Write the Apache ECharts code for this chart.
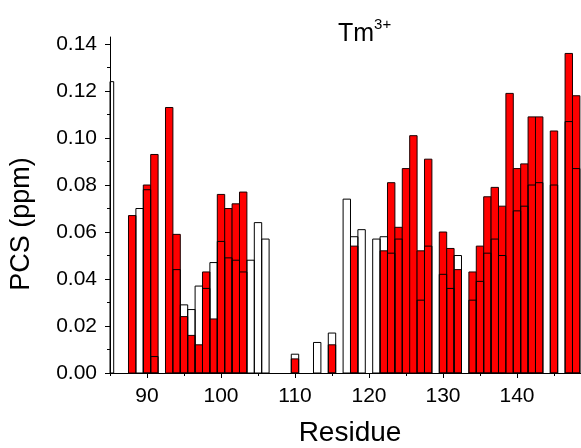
<!DOCTYPE html>
<html>
<head>
<meta charset="utf-8">
<script src="https://cdn.jsdelivr.net/npm/echarts@6/dist/echarts.min.js"></script>
<style>
html,body{margin:0;padding:0;background:#fff;}
#chart{width:581px;height:448px;}
</style>
</head>
<body>
<div id="chart"></div>
<script>
// Residue numbers
var residues = [85,86,87,88,89,90,91,92,93,94,95,96,97,98,99,100,101,102,103,104,105,106,107,108,109,110,111,112,113,114,115,116,117,118,119,120,121,122,123,124,125,126,127,128,129,130,131,132,133,134,135,136,137,138,139,140,141,142,143,144,145,146,147,148];
// Open (outlined) bars
var openValues = [0.124,null,null,null,0.070,0.078,0.007,null,null,0.044,0.029,0.027,0.037,0.036,0.047,0.056,0.049,0.048,0.043,0.048,0.064,0.057,null,null,null,0.008,null,null,0.013,null,0.017,null,0.074,0.058,0.061,null,0.057,0.058,0.051,0.057,null,null,0.031,0.054,null,0.042,0.036,0.050,null,0.031,0.039,0.051,0.057,0.050,null,0.069,0.071,0.080,0.081,null,0.080,null,0.107,0.087];
// Red (filled) bars
var redValues = [null,null,null,0.067,null,0.080,0.093,null,0.113,0.059,0.024,0.016,0.012,0.043,0.023,0.076,0.070,0.072,0.077,null,null,null,null,null,null,0.006,null,null,null,null,0.012,null,null,0.054,null,null,null,0.052,0.081,0.062,0.087,0.101,0.052,0.091,null,0.060,0.053,0.044,null,0.043,0.054,0.075,0.079,0.071,0.119,0.087,0.089,0.109,0.109,null,0.103,null,0.136,0.118];
var xMajorTicks = [90,100,110,120,130,140];
var xMinorTicks = [85,95,105,115,125,135,145];
var yMajorTicks = [0,0.02,0.04,0.06,0.08,0.10,0.12,0.14];
var yMinorTicks = [0.01,0.03,0.05,0.07,0.09,0.11,0.13];

function pairs(vals){
  var out = [];
  for (var i=0;i<residues.length;i++){ if (vals[i]!==null) out.push([residues[i], vals[i]]); }
  return out;
}

function makeRender(fill, stroke){
  return function(params, api){
    var x = api.value(0), y = api.value(1);
    var pL = api.coord([x - 0.5, 0]);
    var pR = api.coord([x + 0.5, y]);
    var cs = params.coordSys;
    var rect = echarts.graphic.clipRectByRect(
      {x:pL[0], y:pR[1], width:pR[0]-pL[0], height:pL[1]-pR[1]},
      {x:cs.x, y:cs.y, width:cs.width, height:cs.height}
    );
    if (!rect) return null;
    return {type:'rect', shape:rect, style:{fill:fill, stroke:stroke, lineWidth:1}};
  };
}

var chart = echarts.init(document.getElementById('chart'), null, {renderer:'canvas'});
var FONT = 'Liberation Sans, Arial, sans-serif';
var XMIN = 85, XMAX = 148.65, YMAX = 0.143;
var axisLineStyle = {color:'#000', width:1};
chart.setOption({
  animation:false,
  backgroundColor:'#fff',
  title:{
    text:'{a|Tm}{b|3+}',
    left:333, top:12,
    textStyle:{fontWeight:'normal', rich:{
      a:{fontFamily:FONT, fontSize:25, fontWeight:'normal', color:'#000', verticalAlign:'bottom', lineHeight:30},
      b:{fontFamily:FONT, fontSize:15, fontWeight:'normal', color:'#000', verticalAlign:'top', lineHeight:30, padding:[0,0,11,0]}
    }}
  },
  graphic:[{
    type:'text', x:350, y:433,
    style:{text:'Residue', fontFamily:FONT, fontSize:28, fill:'#000', align:'center', verticalAlign:'middle'}
  },{
    type:'text', x:22, y:224, rotation:Math.PI/2,
    style:{text:'PCS (ppm)', fontFamily:FONT, fontSize:27, fill:'#000', align:'center', verticalAlign:'middle'}
  }],
  grid:{left:110, right:0, top:37, bottom:75, containLabel:false},
  xAxis:[{
    type:'value', min:XMIN, max:XMAX, interval:5,
    axisLine:{show:true, onZero:false, lineStyle:axisLineStyle},
    axisTick:{show:true, inside:false, length:5, customValues:xMajorTicks, lineStyle:axisLineStyle},
    axisLabel:{show:true, customValues:xMajorTicks, fontFamily:FONT, fontSize:21, color:'#000', margin:13},
    splitLine:{show:false}
  },{
    type:'value', min:XMIN, max:XMAX, interval:5, position:'bottom',
    axisLine:{show:false},
    axisTick:{show:true, length:3, customValues:xMinorTicks, lineStyle:axisLineStyle},
    axisLabel:{show:false},
    splitLine:{show:false}
  }],
  yAxis:[{
    type:'value', min:0, max:YMAX, interval:0.02,
    axisLine:{show:true, lineStyle:axisLineStyle},
    axisTick:{show:true, length:5, customValues:yMajorTicks, lineStyle:axisLineStyle},
    axisLabel:{show:true, customValues:yMajorTicks, fontFamily:FONT, fontSize:21, color:'#000', margin:13,
      formatter:function(v){return v.toFixed(2);}},
    splitLine:{show:false}
  },{
    type:'value', min:0, max:YMAX, interval:0.02, position:'left',
    axisLine:{show:false},
    axisTick:{show:true, length:3, customValues:yMinorTicks, lineStyle:axisLineStyle},
    axisLabel:{show:false},
    splitLine:{show:false}
  }],
  series:[{
    name:'red', type:'custom', xAxisIndex:0, yAxisIndex:0,
    data:pairs(redValues), encode:{x:0, y:1},
    renderItem:makeRender('#ff0000', '#1a0000'),
    z:2
  },{
    name:'open', type:'custom', xAxisIndex:0, yAxisIndex:0,
    data:pairs(openValues), encode:{x:0, y:1},
    renderItem:makeRender('rgba(255,255,255,0)', '#000'),
    z:3
  }]
});
</script>
</body>
</html>
